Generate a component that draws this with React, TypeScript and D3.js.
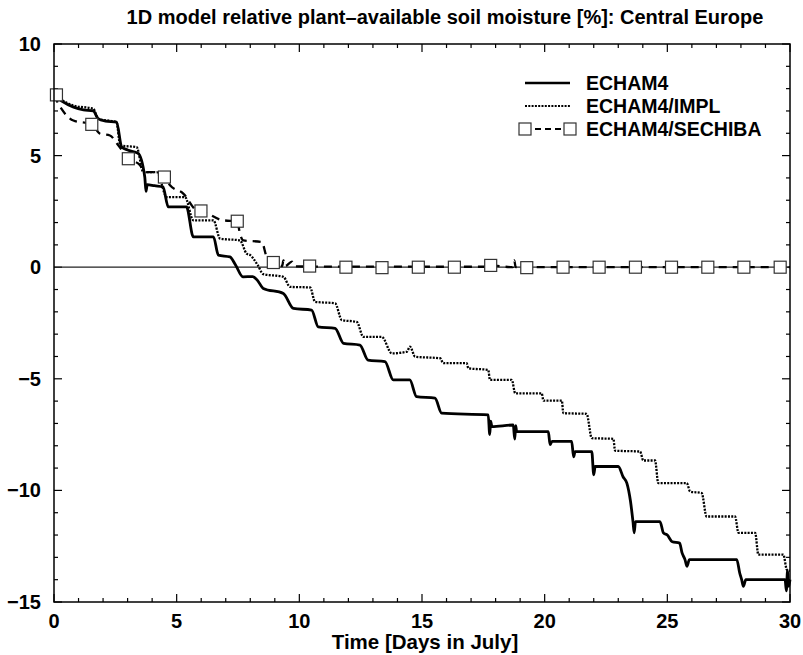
import React from "react";
import * as d3 from "d3";

const TITLE = "1D model relative plant\u2013available soil moisture [%]: Central Europe";
const X_LABEL = "Time [Days in July]";
const X_TICKS = [0, 5, 10, 15, 20, 25, 30];
const Y_TICKS = [10, 5, 0, -5, -10, -15];
const SERIES_NAMES = ["ECHAM4", "ECHAM4/IMPL", "ECHAM4/SECHIBA"];

// [day, value]
const echam4: [number, number][] = [
  [0, 7.7], [0.3, 7.45], [0.8, 7.17], [1.2, 7.05], [1.6, 7.0], [1.8, 6.66], [2.1, 6.55], [2.55, 6.5],
  [2.76, 5.38], [3.0, 5.25], [3.43, 5.1], [3.7, 4.04], [3.75, 3.4], [3.8, 3.7], [4.1, 3.65], [4.44, 3.6],
  [4.66, 2.7], [5.4, 2.7], [5.68, 1.36], [6.5, 1.36], [6.7, 0.54], [7.17, 0.46], [7.4, 0.1], [7.7, -0.43],
  [8.1, -0.42], [8.3, -0.6], [8.53, -0.95], [9.35, -1.18], [9.76, -1.85], [10.5, -1.92], [10.77, -2.67],
  [11.46, -2.74], [11.8, -3.41], [12.47, -3.49], [12.8, -4.16], [13.49, -4.23], [13.83, -5.05], [14.5, -5.05],
  [14.78, -5.8], [15.53, -5.87], [15.8, -6.54], [17.7, -6.62], [17.76, -7.5], [17.8, -6.9], [17.85, -7.14],
  [18.72, -7.07], [18.78, -7.7], [18.82, -7.1], [18.86, -7.37], [20.15, -7.37], [20.22, -7.95], [20.3, -7.8],
  [21.1, -7.8], [21.18, -8.5], [21.24, -8.26], [21.92, -8.26], [22.0, -9.3], [22.06, -8.93], [23.0, -8.93],
  [23.2, -9.4], [23.35, -9.67], [23.5, -10.5], [23.6, -11.4], [23.65, -11.9], [23.7, -11.4], [24.7, -11.4],
  [24.84, -11.9], [25.0, -12.0], [25.2, -12.3], [25.5, -12.36], [25.6, -12.8], [25.72, -13.1], [25.8, -13.4],
  [25.9, -13.1], [27.83, -13.1], [27.95, -13.7], [28.03, -14.0], [28.1, -14.3], [28.2, -14.0], [29.8, -14.0],
  [29.85, -14.5], [29.9, -13.6], [29.95, -14.3], [30, -14.0],
];

const echam4Impl: [number, number][] = [
  [0, 7.7], [0.3, 7.5], [0.8, 7.24], [1.6, 7.1], [1.8, 6.65], [2.55, 6.5], [2.7, 5.45], [3.37, 5.38],
  [3.64, 4.26], [4.19, 4.26], [4.6, 3.14], [5.34, 3.14], [5.68, 2.1], [6.5, 2.1], [6.77, 1.28], [7.58, 1.2],
  [7.85, 0.61], [8.0, 0.54], [8.3, 0.1], [8.53, -0.31], [9.35, -0.43], [9.62, -0.88], [10.44, -0.91],
  [10.64, -1.55], [11.46, -1.62], [11.73, -2.37], [12.34, -2.45], [12.61, -3.12], [13.36, -3.12],
  [13.77, -3.86], [14.38, -3.79], [14.51, -3.56], [14.72, -4.01], [15.74, -4.08], [15.87, -4.3],
  [16.82, -4.3], [16.89, -4.53], [17.7, -4.6], [17.77, -5.05], [18.66, -5.05], [18.8, -5.65], [19.88, -5.65],
  [19.95, -5.98], [20.7, -5.98], [20.76, -6.54], [21.71, -6.57], [21.92, -7.66], [22.8, -7.69],
  [22.87, -8.22], [23.89, -8.26], [24.02, -8.66], [24.5, -8.66], [24.63, -9.67], [25.79, -9.67],
  [25.93, -10.05], [26.4, -10.12], [26.6, -11.17], [27.76, -11.17], [27.9, -11.9], [28.58, -11.9],
  [28.71, -12.88], [29.73, -12.88], [29.87, -13.55], [30, -13.6],
];

const echam4Sechiba: [number, number][] = [
  [0, 7.7], [0.3, 7.1], [0.79, 6.57], [1.54, 6.4], [1.88, 5.98], [2.28, 5.9], [2.62, 5.46], [3.03, 4.86],
  [3.44, 4.64], [3.78, 4.26], [4.19, 4.26], [4.5, 4.04], [4.73, 3.67], [5.27, 3.3], [5.82, 2.55],
  [5.99, 2.52], [6.9, 2.1], [7.47, 2.06], [7.58, 1.5], [7.72, 1.2], [8.47, 1.13], [8.67, 0.46],
  [8.94, 0.21], [9.3, 0.05], [9.35, 0.3], [9.42, 0.05], [9.7, 0.25], [9.82, 0.04], [10.44, 0.03],
  [17.7, 0.02], [17.8, 0.08], [18.7, 0.0], [18.76, 0.3], [18.82, 0.0], [30, 0.0],
];

const sechibaMarkers: [number, number][] = [
  [0.1, 7.72], [1.54, 6.4], [3.03, 4.86], [4.5, 4.04], [5.99, 2.52], [7.47, 2.06], [8.94, 0.21],
  [10.42, 0.05], [11.9, 0.0], [13.37, -0.02], [14.85, 0.0], [16.32, 0.0], [17.8, 0.08], [19.27, -0.02],
  [20.75, 0.0], [22.22, 0.0], [23.7, 0.0], [25.17, 0.0], [26.65, 0.0], [28.12, 0.0], [29.6, 0.0],
];

const W = 803;
const H = 655;
const M = { left: 54, right: 13, top: 44, bottom: 53 };
const FONT = "'Liberation Sans', Arial, Helvetica, sans-serif";

export default function App() {
  const x = d3.scaleLinear().domain([0, 30]).range([M.left, W - M.right]);
  const y = d3.scaleLinear().domain([-15, 10]).range([H - M.bottom, M.top]);
  const line = d3
    .line<[number, number]>()
    .x((d) => x(d[0]))
    .y((d) => y(d[1]))
    .curve(d3.curveMonotoneX);

  const xMinor = d3.range(0, 31, 1);
  const yMinor = d3.range(-15, 11, 1);
  const x0 = x(0), x1 = x(30), yT = y(10), yB = y(-15);
  const MS = 12;

  const legX0 = 525, legX1 = 570, legY = [83, 106, 129];

  return (
    <svg width={W} height={H} style={{ display: "block", position: "absolute", left: 0, top: 0 }}>
      <rect x={0} y={0} width={W} height={H} fill="#fff" />
      <text x={445} y={24} textAnchor="middle" fontFamily={FONT} fontWeight="bold" fontSize={20} fill="#000">
        {TITLE}
      </text>

      {xMinor.map((t) => {
        const major = t % 5 === 0;
        const len = major ? 8 : 4;
        return (
          <g key={"xt" + t} stroke="#000" strokeWidth={1.2}>
            <line x1={x(t)} x2={x(t)} y1={yB} y2={yB - len} />
            <line x1={x(t)} x2={x(t)} y1={yT} y2={yT + len} />
          </g>
        );
      })}
      {yMinor.map((v) => {
        const major = v % 5 === 0;
        const len = major ? 8 : 4;
        return (
          <g key={"yt" + v} stroke="#000" strokeWidth={1.2}>
            <line x1={x0} x2={x0 + len} y1={y(v)} y2={y(v)} />
            <line x1={x1} x2={x1 - len} y1={y(v)} y2={y(v)} />
          </g>
        );
      })}

      <line x1={x0} x2={x1} y1={y(0)} y2={y(0)} stroke="#222" strokeWidth={1.3} />

      <path d={line(echam4Impl) || ""} fill="none" stroke="#000" strokeWidth={2.3} strokeDasharray="2,1.3" />
      <path d={line(echam4) || ""} fill="none" stroke="#000" strokeWidth={2.8} strokeLinejoin="round" />
      <path d={line(echam4Sechiba) || ""} fill="none" stroke="#000" strokeWidth={2.3} strokeDasharray="8,6" />
      {sechibaMarkers.map((d, i) => (
        <rect key={"m" + i} x={x(d[0]) - MS / 2} y={y(d[1]) - MS / 2} width={MS} height={MS}
          fill="#fff" stroke="#333" strokeWidth={1.2} />
      ))}

      <rect x={x0} y={yT} width={x1 - x0} height={yB - yT} fill="none" stroke="#000" strokeWidth={1.5} />

      {X_TICKS.map((t) => (
        <text key={"xl" + t} x={x(t)} y={yB + 26} textAnchor="middle" fontFamily={FONT} fontWeight="bold" fontSize={20} fill="#000">
          {t}
        </text>
      ))}
      {Y_TICKS.map((v) => (
        <text key={"yl" + v} x={41} y={y(v) + 7} textAnchor="end" fontFamily={FONT} fontWeight="bold" fontSize={20} fill="#000">
          {v < 0 ? "\u2212" + Math.abs(v) : v}
        </text>
      ))}
      <text x={425} y={649} textAnchor="middle" fontFamily={FONT} fontWeight="bold" fontSize={20.5} fill="#000">
        {X_LABEL}
      </text>

      <line x1={legX0} x2={legX1} y1={legY[0]} y2={legY[0]} stroke="#000" strokeWidth={2.6} />
      <line x1={legX0} x2={legX1} y1={legY[1]} y2={legY[1]} stroke="#000" strokeWidth={2.2} strokeDasharray="2,1.3" />
      <line x1={legX0} x2={legX1} y1={legY[2]} y2={legY[2]} stroke="#000" strokeWidth={2.2} strokeDasharray="6,4" />
      {[legX0, legX1].map((lx, i) => (
        <rect key={"lm" + i} x={lx - MS / 2} y={legY[2] - MS / 2} width={MS} height={MS} fill="#fff" stroke="#333" strokeWidth={1.2} />
      ))}
      {SERIES_NAMES.map((n, i) => (
        <text key={n} x={586} y={legY[i] + 7} fontFamily={FONT} fontWeight="bold" fontSize={19.5} fill="#000">
          {n}
        </text>
      ))}
    </svg>
  );
}
